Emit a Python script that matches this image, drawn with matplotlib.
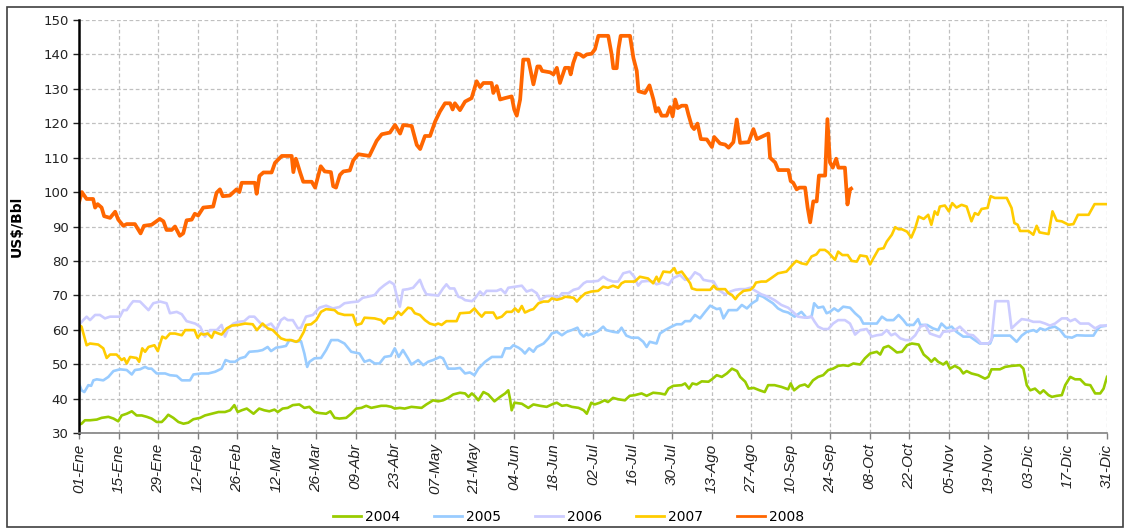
import matplotlib
matplotlib.use('Agg')
import matplotlib.pyplot as plt
from matplotlib.patches import Rectangle

# x = day of year (0 = 01-Ene), y = US$/Bbl
tick_labels = ['01-Ene', '15-Ene', '29-Ene', '12-Feb', '26-Feb', '12-Mar', '26-Mar', '09-Abr',
               '23-Abr', '07-May', '21-May', '04-Jun', '18-Jun', '02-Jul', '16-Jul', '30-Jul',
               '13-Ago', '27-Ago', '10-Sep', '24-Sep', '08-Oct', '22-Oct', '05-Nov', '19-Nov',
               '03-Dic', '17-Dic', '31-Dic']
tick_days = [14 * i for i in range(len(tick_labels))]

d2004 = [0, 0.9, 2.1, 3.9, 6.3, 8, 10.4, 12.2, 13.9, 15.1, 16.9, 18.7, 20.4, 22.2, 24, 25.7, 27.5, 29.3,
         30.5, 31.6, 33.4, 35.2, 37, 38.7, 40.5, 42.9, 44.6, 47, 49.4, 51.7, 53.5, 55, 56.2, 57.6, 59.4,
         61.8, 63.8, 65.6, 67.4, 69.2, 70.4, 72.1, 73.9, 75.7, 78, 79.8, 81.6, 83.4, 85.1, 87.5, 89,
         90.5, 92.2, 94.6, 96.4, 98.2, 100, 101.7, 103.5, 105.3, 107, 108.8, 110.6, 111.8, 113.6, 115.3,
         117.7, 121.3, 123, 125.4, 127.2, 128.9, 130.7, 132.5, 134.9, 136.7, 137.9, 139.1, 140.2, 141.4,
         143.2, 144.9, 147.1, 149.1, 150.9, 152, 152.6, 153.2, 154.2, 156.8, 159.1, 160.9, 163.3, 165.6,
         168, 169.2, 171, 172.7, 174.5, 176.9, 178.7, 179.8, 181.4, 182.6, 184.4, 186.1, 187.3, 189.1,
         190.9, 193.3, 195, 196.8, 199.2, 201, 203.3, 205.7, 207.5, 208.7, 210.4, 213.4, 214.6, 216,
         217.2, 218.7, 220.5, 222.9, 224.1, 225.8, 227.6, 229.4, 231.2, 233, 234.1, 235.9, 237.1, 238.9,
         241, 242.8, 244, 246.3, 248.7, 251.1, 252, 253.2, 255.2, 257, 258.2, 259.9, 261.7, 263.5, 265.3,
         267, 268.8, 270.6, 272.4, 274.2, 276.6, 278.3, 280.1, 282.5, 283.7, 284.9, 286.6, 287.8, 289.6,
         291.4, 293.2, 294.9, 297.3, 299.1, 300.7, 301.8, 303, 304.2, 306, 307.2, 308.4, 310.1, 311.9,
         313.1, 314.3, 316, 318.4, 320.8, 322, 323.1, 326.1, 327.9, 330.2, 333.2, 334.4, 335.6, 336.8,
         338.5, 340.3, 341.5, 343.3, 344.5, 346.2, 348, 349.2, 351, 352.7, 354.5, 356.3, 358.1, 359.8,
         361.6, 362.8, 364]
p2004 = [32.4, 32.7, 33.7, 33.7, 33.9, 34.4, 34.7, 34.2, 33.4, 35.1, 35.6, 36.3, 35.1, 35.1, 34.7, 34.2,
         33.2, 33.2, 34.2, 35.3, 34.4, 33.2, 32.7, 33, 34, 34.4, 35.1, 35.6, 36.1, 36.1, 36.6, 38.1, 36.1,
         36.6, 37.1, 35.6, 37.1, 36.6, 36.3, 36.8, 36.1, 37.1, 37.3, 38.1, 38.3, 37.3, 37.6, 36.1, 35.8,
         35.6, 36.3, 34.4, 34.2, 34.4, 35.6, 37.1, 37.3, 37.9, 37.3, 37.6, 37.9, 37.9, 37.6, 37.1, 37.3,
         37.1, 37.6, 37.3, 38.3, 39.5, 39.2, 39.5, 40.2, 41.2, 41.7, 41.5, 40.5, 41.5, 40.7, 39.5, 41.9,
         41.2, 39.2, 40.5, 41.5, 42.4, 40, 36.6, 38.8, 38.5, 37.3, 38.3, 37.9, 37.6, 38.5, 38.8, 37.9,
         38.1, 37.6, 37.3, 36.6, 35.6, 38.8, 38.3, 38.8, 39.5, 39, 40.2, 39.8, 39.5, 40.8, 41, 41.5, 40.8,
         41.7, 41.5, 41.2, 42.9, 43.7, 43.9, 44.4, 42.9, 44.4, 44.1, 45, 44.9, 45.6, 46.8, 46.3, 47.3,
         48.7, 48, 46.3, 44.9, 42.9, 43.1, 42.4, 41.9, 43.9, 43.9, 43.4, 42.7, 44.4, 42.4, 43.7, 44.1,
         43.4, 45.3, 46.3, 46.8, 48.3, 48.7, 49.5, 49.7, 49.5, 50.2, 49.9, 51.7, 53.1, 53.6, 52.8, 54.8,
         55.3, 54.6, 53.4, 53.6, 55.5, 56, 55.7, 52.8, 51.7, 50.7, 51.7, 50.7, 49.9, 50.7, 48.7, 49.5,
         48.7, 47.3, 48, 47.3, 46.8, 45.8, 46.3, 48.5, 48.5, 49.2, 49.5, 49.7, 48.7, 43.9, 42.4, 42.9,
         41.5, 42.4, 41, 40.5, 40.8, 41, 43.9, 46.3, 45.6, 45.6, 44.1, 43.9, 41.5, 41.5, 42.9, 46.3]

d2005 = [0, 0.9, 1.9, 3.3, 4.3, 5.1, 6.3, 8.6, 10.4, 12.2, 14.5, 16.9, 18.7, 19.8, 21.6, 23.4, 24.6, 25.7,
         27.5, 30.5, 32.2, 34.6, 36.4, 39.3, 40.5, 43.4, 45.8, 48.2, 50.5, 51.9, 53.5, 55.3, 57, 58.8,
         60.3, 63.3, 65, 66.8, 68, 69.8, 71.5, 73.3, 74.5, 76.9, 78.6, 79.8, 80.8, 81.6, 83.4, 85.7, 87.5,
         89.3, 91.7, 94, 96.4, 99.3, 101.1, 102.9, 104.7, 106.4, 108.2, 110.4, 111.8, 113.2, 114.7,
         116.5, 117.7, 119.5, 120.1, 121.9, 123.6, 125.4, 127.8, 128.9, 130.7, 133.1, 134.9, 136.7,
         138.4, 140, 141.4, 143.8, 146.2, 149.7, 150.9, 152.7, 153.8, 155.6, 156.8, 157.9, 159.4, 160.9,
         162.1, 164.5, 166.2, 167.4, 169.2, 171, 172.7, 174.5, 176.5, 177.5, 178.7, 179.8, 180.2, 182,
         183.8, 185.6, 186.7, 189.1, 190.9, 192.1, 193.8, 195.6, 198, 199.8, 201, 202.1, 204.5, 205.7,
         207.5, 209.8, 211.6, 213.4, 214.6, 216.4, 218.1, 219.9, 221.7, 223.5, 225.8, 227, 228.2, 230,
         233, 234.7, 236.5, 238.3, 240.1, 240.4, 242.2, 244, 245.7, 247.5, 249.3, 251.1, 253.4, 255.8,
         257.6, 259.4, 260.3, 261.7, 263.5, 264.7, 265.9, 267.4, 268.8, 270.6, 273, 274.8, 276.6, 277.7,
         280.1, 282.5, 284.3, 286, 288.4, 290.2, 291.9, 293.2, 295.5, 297.1, 297.9, 300.3, 302.4, 304.2,
         305.4, 307.2, 309, 310.7, 313.1, 315.5, 317.2, 319, 322.6, 323.7, 329.7, 332, 333.8, 335.6, 338,
         339.1, 340.3, 342.1, 343.8, 345.6, 347.4, 349.2, 351.6, 353.3, 356.3, 359.2, 360.4, 361.6, 364]
p2005 = [44.4, 42.4, 41.9, 43.9, 43.7, 45.3, 45.6, 45.3, 46.3, 48, 48.5, 48.3, 47, 48.3, 48.5, 49.2, 48.7,
         48.7, 47.3, 47.3, 46.8, 46.6, 45.3, 45.3, 47, 47.3, 47.3, 47.8, 48.7, 51.2, 50.7, 50.7, 51.7,
         52.1, 53.6, 53.8, 54.1, 55, 53.8, 54.8, 55, 55.3, 57, 56.5, 56.7, 53.1, 49.2, 50.7, 51.7, 51.8,
         54.1, 57, 57, 56, 53.6, 53.1, 50.7, 51.2, 50.2, 50.2, 52.1, 52.4, 54.6, 52.1, 54.1, 51.7, 49.9,
         50.9, 51.2, 49.7, 50.7, 51.2, 52.1, 51.7, 48.7, 48.7, 48.9, 47.3, 47.6, 46.8, 48.7, 50.7, 52.1,
         52.1, 54.6, 54.6, 55.5, 54.8, 54.1, 53.1, 54.6, 53.6, 55, 56, 57.5, 58.9, 59.4, 58.4, 59.4, 59.9,
         60.6, 58.9, 58, 58.9, 58.4, 58.9, 59.6, 60.9, 59.9, 59.4, 59.2, 60.6, 58.3, 57.7, 57.7, 56.5, 55,
         56.5, 56, 58.9, 59.9, 60.9, 61.6, 61.6, 62.5, 62.5, 64.3, 63.3, 65.2, 67, 66, 66.2, 63.3, 65.7,
         65.7, 67.2, 66.2, 67.7, 68.6, 70.1, 69.6, 68.6, 67.7, 66.2, 65.4, 65, 63.8, 65.2, 63.5, 63.8,
         67.7, 66.4, 66.7, 64.8, 65.2, 66.2, 65.4, 66.7, 66.4, 64.8, 63.5, 61.8, 61.8, 61.8, 63.8, 62.8,
         62.8, 64.3, 62.8, 61.4, 61.4, 63.1, 61.4, 61.4, 60.4, 59.9, 61.8, 60.4, 60.9, 59.4, 58, 58, 57,
         56, 56, 58.3, 58.3, 56.5, 58.3, 59.4, 59.9, 59.4, 60.4, 59.9, 60.6, 60.9, 59.9, 58, 57.7, 58.4,
         58.3, 58.3, 59.9, 60.9, 61.2]

d2006 = [0, 1.5, 2.7, 3.9, 5.7, 7.4, 9.2, 11, 14.5, 15.7, 16.9, 18.1, 19.2, 21.6, 23.4, 24.6, 26.3, 28.7,
         31, 32.2, 34.6, 36.4, 38.1, 41.1, 42.9, 44.6, 46.4, 48.8, 50.5, 51.7, 52.9, 54.7, 56.4, 58.5,
         60.3, 62.1, 63.8, 65.6, 68, 69.8, 71.5, 72.7, 73.9, 75.7, 77.5, 78.6, 80.4, 82.8, 85.1, 87.5,
         89.9, 92.2, 94, 96.4, 98.8, 100.5, 102.3, 104.7, 106.4, 108.2, 110, 111.5, 113, 113.6, 114.7,
         116.5, 118.3, 120.7, 121.9, 123, 125.4, 127.2, 128.9, 130.1, 131.3, 132.9, 134.3, 135.5, 136.7,
         139.1, 140.2, 142, 143.2, 144.3, 147.9, 149.4, 150.9, 152, 154.4, 156.8, 158.5, 160.3, 162.1,
         163.3, 164.5, 165.6, 167.4, 169.8, 171, 173.3, 175.1, 176.9, 178.7, 179.8, 181.4, 183.8, 185.6,
         187.3, 189.1, 190.9, 192.7, 195, 196.6, 198, 199.2, 201.5, 203.3, 204.5, 206.5, 208.7, 210.4,
         212.8, 214.6, 216.4, 218.1, 219.9, 221.1, 222.9, 224.7, 226.4, 228.8, 230.6, 232.4, 234.1,
         235.9, 237.7, 239.5, 241.6, 244, 246.3, 248.7, 251.1, 252.8, 254.6, 257, 259.4, 260.5, 261.7,
         263.5, 265.3, 267, 268.8, 271.2, 273, 274.8, 276.6, 278.9, 280.7, 282.5, 284.3, 286, 287.6, 289,
         290.8, 292.6, 294.3, 296.1, 297.9, 299.7, 301.3, 303, 304.8, 306, 308.4, 310.1, 311.9, 313.1,
         314.9, 316.6, 318.4, 319.4, 322, 323.1, 324.5, 329, 330.2, 332, 333.8, 336.2, 337.9, 340.3,
         342.1, 343.8, 345.6, 348, 349.8, 351, 352.7, 354.5, 357.5, 359.8, 361.6, 364]
p2006 = [61.4, 62.8, 63.8, 62.8, 64.3, 64.3, 63.3, 63.8, 63.8, 65.7, 65.7, 67.2, 68.3, 68.2, 66.7, 65.7,
         67.7, 68.2, 67.7, 64.8, 65.2, 64.5, 62.5, 61.8, 60.9, 58, 59.9, 59.9, 61.4, 58, 60.4, 61.8, 62.3,
         62.5, 63.8, 63.8, 62.3, 60.9, 61.8, 59.9, 62.8, 63.5, 62.8, 62.8, 60.4, 60.6, 63.8, 64.3, 66.4,
         67, 66.2, 66.6, 67.7, 68, 68.2, 69.3, 69.6, 70.1, 71.8, 73, 74, 73.2, 68.3, 66.7, 71.6, 71.8,
         72.2, 74.5, 72, 70.3, 70.1, 69.9, 72, 73.2, 72, 72, 69.6, 69.3, 68.6, 68.3, 69.1, 71.1, 70.1,
         71.3, 71.3, 71.8, 70.6, 72.2, 72.5, 72.8, 71.1, 71.6, 70.6, 68.6, 69.3, 69.8, 69.8, 69.3, 70.6,
         70.6, 71.6, 72, 73.5, 74, 74, 74.2, 75.4, 74.5, 74, 74, 76.4, 76.9, 75.4, 72.8, 74, 74.2, 74,
         73.2, 73.7, 73, 75, 75.9, 74.5, 74.8, 76.7, 75.9, 74.5, 74.2, 74, 71.6, 70.3, 71.1, 71.6, 71.8,
         71.8, 72.2, 71.3, 70.3, 69.6, 68.6, 67.2, 66.4, 65.2, 63.8, 63.5, 63.8, 62.3, 60.9, 60.2, 60.2,
         61.8, 62.8, 62.8, 61.8, 58.6, 59.9, 60.2, 58, 58.4, 58.6, 59.9, 58.4, 58.9, 57.5, 57, 57, 58.4,
         60.9, 61.4, 58.9, 58.4, 57.9, 59.4, 59.6, 59.9, 60.9, 59.9, 58.6, 58.4, 57, 56, 56, 57, 68.3,
         68.3, 60.4, 61.8, 63.1, 62.8, 62.3, 62.3, 61.8, 61.2, 61.8, 63.3, 63.3, 62.5, 63.1, 61.8, 61.8,
         60.4, 61.2, 61.2]

d2007 = [0, 0.9, 2.7, 3.9, 6.8, 8.6, 9.8, 11, 13.3, 15.1, 16, 16.9, 18.1, 20.4, 21.3, 22.4, 23.4, 24.6,
         26.7, 27.9, 29.5, 30.7, 32.2, 34, 36.4, 37.6, 40.9, 42, 43.2, 44, 45.6, 47, 47.9, 49.4, 50.5,
         52.3, 54.1, 56.4, 58.8, 61.5, 63, 65, 66.8, 68.6, 70.4, 71.5, 73.3, 75.1, 76.9, 78, 79.6, 80.4,
         82.2, 84, 85.7, 87.5, 90.5, 91.7, 94, 97, 98.2, 100, 101.1, 104.7, 107, 108, 109.4, 111.2, 113,
         114.1, 116.5, 117.7, 118.9, 120.7, 122.5, 124.2, 126, 127.2, 128.4, 130.1, 133.7, 134.9, 138.4,
         140, 141.4, 142.6, 143.8, 146.7, 147.9, 149.7, 151.4, 153.2, 154.4, 155.6, 156.8, 157.9, 159.7,
         160.9, 162.7, 164.5, 166.2, 167.4, 169.2, 171, 172.2, 175.1, 176.3, 177.5, 179.3, 181.4, 183.8,
         185.6, 187.3, 189.1, 190.9, 192.1, 193.3, 196.8, 198.6, 200.4, 201.5, 203.3, 204.5, 205.3,
         206.9, 209.3, 210.8, 211.6, 213.4, 215.2, 216.4, 217, 218.7, 223.5, 224.7, 225.8, 228.8, 230,
         231.2, 232.4, 233.5, 235.3, 237.7, 238.9, 239.7, 241.6, 243.3, 245.1, 247.5, 250.5, 251.6,
         252.8, 254, 255.8, 257.6, 259.4, 261.1, 262.3, 264.1, 265.3, 267.7, 268.8, 270.3, 272.2, 273.6,
         275.4, 276.6, 278.9, 280.1, 281.3, 283.1, 284.9, 286, 287.8, 289, 290.2, 291.4, 293.2, 294.7,
         296.1, 297.3, 299.1, 300.7, 301.8, 303, 304, 304.8, 306.6, 308, 309.2, 310.7, 312.5, 314.3,
         316, 317.2, 318.4, 319.6, 321.7, 322.8, 324.3, 328.5, 330.2, 331.2, 332.4, 333.2, 336.2, 337.9,
         339.1, 340.1, 342.1, 343.3, 344.7, 346.2, 348, 350.4, 352.1, 353.7, 357.5, 359.6, 364]
p2007 = [61.4, 60.9, 55.5, 56, 55.7, 54.6, 51.8, 52.8, 52.8, 51.2, 51.7, 50.2, 52.1, 51.8, 50.7, 54.6,
         53.6, 55, 55.5, 53.8, 58, 57.5, 58.9, 58.9, 58.4, 59.9, 59.9, 57.7, 58.9, 58.6, 58.9, 57.7, 59.4,
         58.9, 58.6, 60.4, 61.2, 61.4, 61.8, 61.6, 59.9, 61.8, 60.4, 59.9, 58.4, 57.5, 57, 57, 56.5, 57,
         59.4, 61.4, 61.6, 62.8, 65.2, 66, 65.7, 64.8, 64.3, 64.3, 61.4, 61.8, 63.5, 63.3, 62.8, 61.8,
         63.3, 63.3, 65.2, 64.3, 66.4, 66.2, 64.8, 64.3, 62.8, 61.8, 61.4, 61.8, 61.4, 62.5, 62.5, 64.8,
         65, 66.2, 64.8, 63.8, 65, 65, 63.3, 63.8, 65.2, 65.2, 66.2, 65.2, 66.9, 65, 65.7, 66, 67.7, 68.2,
         68.2, 69.1, 68.7, 69.1, 69.6, 69.3, 68.2, 69.3, 70.6, 71.1, 71.3, 72.5, 72.2, 72.8, 72.2, 73.5,
         74, 74, 75.4, 75.1, 74.9, 73.5, 75.4, 74, 76.9, 76.7, 77.9, 76.4, 76.9, 74.9, 73.5, 72, 71.6,
         71.6, 72.8, 71.8, 71.8, 70.6, 70.1, 68.9, 70.1, 71.3, 71.6, 72.5, 73.7, 74, 74, 75, 76.4, 76.9,
         77.9, 79, 80, 79.3, 79, 81.3, 81.9, 83.2, 83.2, 82.5, 80.3, 82.7, 81.7, 81.7, 80, 79.8, 81.6,
         81.3, 79, 80.8, 83.4, 83.7, 85.6, 87.6, 89.8, 89.2, 89.2, 88.5, 86.8, 89.5, 92.9, 92.2, 93.4,
         90.5, 94.4, 93.4, 95.8, 96.1, 94.4, 96.8, 95.5, 96.3, 95.8, 91.5, 93.9, 93.4, 95.1, 95.4, 98.8,
         98.3, 98.3, 95.4, 91, 90.5, 88.7, 88.7, 87.6, 90.2, 88.3, 88, 87.8, 94.4, 91.7, 91.5, 90.5, 90.7,
         93.4, 93.4, 96.5, 96.5]

d2008 = [0, 1, 2.7, 5, 5.7, 6.6, 8, 8.9, 11, 12.8, 13.9, 15.7, 16.9, 19.8, 21.8, 23, 25.7, 28.6, 29.9, 31,
         32.8, 34, 35.7, 36.9, 38.1, 39.9, 41, 42.2, 44, 47.5, 48.7, 49.9, 50.9, 53.4, 55.8, 56.8, 57.6,
         62.3, 62.9, 63.9, 65.3, 68.2, 69.4, 71.8, 75.3, 75.9, 76.8, 78.3, 79.4, 82.4, 83.6, 85.6, 87,
         89.2, 90, 91, 92.4, 93.6, 95.9, 97.1, 98.9, 102.8, 105.4, 107.2, 110.1, 111.9, 113.7, 114.8,
         117.8, 119.6, 120.8, 122.5, 124.3, 126.1, 127.8, 129.6, 131.4, 132.3, 133.1, 134.9, 136.7, 139,
         140.8, 142, 143.2, 146.1, 146.7, 147.9, 149.1, 150.8, 153.2, 154.1, 155, 156.2, 157.3, 159.1,
         160.9, 162.3, 163.2, 164, 166.8, 168, 169.2, 170.3, 172.1, 173.5, 174.1, 175, 176.2, 177.4,
         178.6, 179.8, 181.5, 182.7, 183.9, 187.4, 188.6, 189.2, 190.4, 191, 191.8, 195.1, 196.3, 197.5,
         198.1, 200.4, 202, 203.4, 204.3, 205.1, 206.3, 208.1, 209.3, 210.2, 211.1, 212, 213.4, 215,
         215.8, 217, 217.8, 219, 220.2, 222.3, 224.1, 224.9, 227, 228.8, 230, 231.7, 232.9, 234.1, 237.1,
         238.8, 240, 244.1, 244.7, 246.5, 247.6, 251.2, 252, 252.9, 254.1, 255.1, 257.1, 258, 258.9, 260,
         261.2, 262, 264.2, 265, 265.9, 266.9, 268.1, 268.9, 271.2, 272.1, 273, 273.4]
p2008 = [97, 100, 98, 98, 95.5, 96.5, 95.5, 93, 92.5, 94.3, 92, 90.2, 90.7, 90.7, 88, 90.2, 90.5, 92.2,
         91.5, 89, 89, 90, 87.3, 88, 91.8, 92, 93.7, 93.2, 95.5, 95.8, 99.8, 100.8, 98.8, 99, 100.8, 100,
         102.7, 102.7, 99.5, 104.7, 105.7, 105.7, 108.5, 110.5, 110.5, 105.8, 109.7, 105.7, 103, 103,
         101.3, 107.5, 106, 105.8, 101.7, 101.3, 105, 106, 106.3, 109.2, 111, 110.5, 114.9, 116.8, 117.3,
         119.5, 117, 119.5, 119.2, 113.7, 112.5, 116.3, 116.3, 120.5, 123.4, 125.8, 125.8, 124, 125.8,
         123.8, 126.3, 127.3, 132.2, 130.5, 131.7, 131.7, 128.8, 130.8, 126.9, 127.3, 127.8, 124, 122.2,
         126.9, 138.5, 138.5, 131.3, 136.5, 136.5, 135.2, 134.8, 134.2, 136.1, 131.7, 136.1, 136.1,
         134.2, 137.5, 140.3, 140, 139.3, 140, 140.2, 141.5, 145.4, 145.4, 140, 136, 136, 141.5, 145.4,
         145.4, 139, 135.2, 129.3, 128.8, 131, 126.9, 123.4, 124.4, 122.2, 122.2, 124.7, 122, 126.9,
         124.4, 125.1, 125.1, 122.5, 119.1, 118.3, 119.9, 115.4, 115.3, 113.1, 116, 114.1, 113.8, 112.9,
         114.5, 121.1, 114.3, 114.5, 118.3, 115.4, 117, 110, 108.6, 106.4, 106.4, 103.2, 102.7, 100.8,
         101.3, 101.3, 95.5, 91.2, 97.3, 97.3, 104.8, 104.8, 121.2, 108.6, 107.1, 109.7, 107.1, 107.1,
         96.4, 100.8, 101]

series = [('2004', d2004, p2004, '#99CC00', 1.9),
          ('2005', d2005, p2005, '#99CCFF', 1.9),
          ('2006', d2006, p2006, '#CCCCFF', 1.9),
          ('2007', d2007, p2007, '#FFCC00', 1.9),
          ('2008', d2008, p2008, '#FF6600', 2.7)]

fig = plt.figure(figsize=(11.26, 5.29), dpi=100)
ax = fig.add_axes([79 / 1126, 1 - 433 / 529, (1107 - 79) / 1126, (433 - 20) / 529])

for name, d, p, c, lw in series:
    ax.plot(d, p, color=c, lw=lw, label=name, solid_joinstyle='round')

ax.set_xlim(0, 364)
ax.set_ylim(30, 150)
ax.set_yticks(range(30, 151, 10))
ax.set_xticks(tick_days)
ax.set_xticklabels(tick_labels, rotation=90, fontstyle='italic',
                   family=['Liberation Sans', 'DejaVu Sans'], fontsize=11)
ax.tick_params(axis='y', labelsize=9.5, colors='#222222', length=4, width=1)
ax.tick_params(axis='x', length=4, width=1, colors='#808080', labelcolor='#222222')
ax.grid(True, color='#C0C0C0', linestyle=(0, (3, 2)), lw=0.9)
ax.set_axisbelow(True)

for s in ['top', 'right']:
    ax.spines[s].set_visible(False)
ax.spines['left'].set_color('black')
ax.spines['left'].set_linewidth(1.8)
ax.spines['bottom'].set_color('#808080')
ax.spines['bottom'].set_linewidth(1.2)

ax.set_ylabel('US$/Bbl', fontsize=10, fontweight='bold', labelpad=14)

leg = fig.legend(loc='center', bbox_to_anchor=(0.505, 1 - 517 / 529), ncol=5, frameon=False,
                 fontsize=10, handlelength=2.0, columnspacing=2.5, handletextpad=0.25)
for h in leg.legend_handles:
    h.set_linewidth(2.0)

fig.patches.append(Rectangle((7 / 1126, 2 / 529), 1 - 10 / 1126, 1 - 9 / 529,
                             transform=fig.transFigure, fill=False, edgecolor='#404040', lw=1.2))

fig.savefig('out.png', dpi=100)
